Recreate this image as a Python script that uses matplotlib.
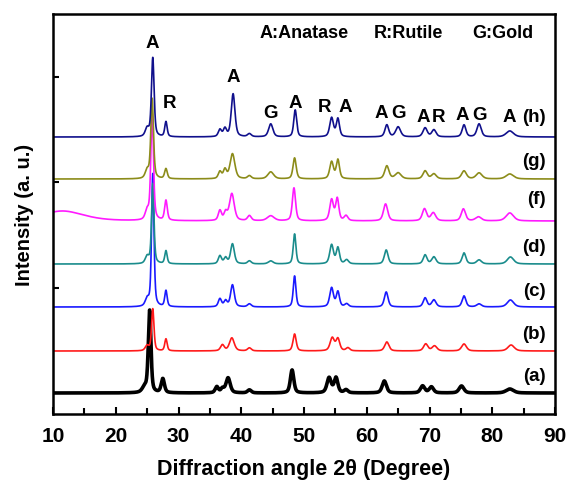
import numpy as np
import matplotlib
matplotlib.use("Agg")
import matplotlib.pyplot as plt

plt.rcParams['font.family'] = ['Liberation Sans', 'DejaVu Sans']
plt.rcParams['font.weight'] = 'bold'

# --- data: baselines (a.u. offsets) and peak tables (2theta, height, fwhm) ---
series_labels = ["(a)", "(b)", "(c)", "(d)", "(f)", "(g)", "(h)"]
series_colors = ["#000000", "#ff1a1a", "#1a1aff", "#1a8c8c", "#ff1aff", "#8c8c1a", "#10108c"]
baselines = [21, 63, 107, 150, 193, 235, 277]

peaks_a = [(24.6, 5, 0.9), (25.4, 82, 0.5), (27.5, 14, 0.6), (36.1, 6, 0.6), (37.0, 4, 0.6),
           (37.9, 15, 0.8), (41.3, 3, 0.7), (48.1, 23, 0.65), (54.0, 15, 0.8), (55.1, 15, 0.7),
           (56.7, 3, 0.7), (62.8, 12, 0.8), (68.9, 7, 0.8), (70.3, 6, 0.8), (75.1, 7, 0.9),
           (82.8, 4, 1.4)]
peaks_b = [(25.0, 5, 0.7), (25.9, 42, 0.45), (28.0, 12, 0.45), (37.0, 6, 0.7), (38.5, 13, 0.9),
           (41.3, 3, 0.7), (48.5, 17, 0.6), (54.5, 13, 0.8), (55.4, 12, 0.7), (57.0, 3, 0.7),
           (63.2, 9, 0.8), (69.4, 7, 0.8), (70.8, 5, 0.9), (75.5, 7, 0.9), (83.0, 6, 1.2)]
peaks_c = [(25.0, 7, 0.7), (25.9, 133, 0.45), (28.0, 16, 0.45), (36.6, 8, 0.6), (37.5, 6, 0.6),
           (38.6, 22, 0.7), (41.3, 3, 0.7), (48.5, 31, 0.5), (54.4, 19, 0.7), (55.4, 15, 0.6),
           (56.8, 3, 0.7), (63.1, 15, 0.7), (69.3, 9, 0.7), (70.7, 7, 0.8), (75.5, 11, 0.7),
           (77.9, 3, 0.9), (82.9, 7, 1.2)]
peaks_d = [(25.0, 7, 0.7), (25.9, 80, 0.45), (28.0, 13, 0.45), (36.6, 8, 0.6), (37.5, 6, 0.6),
           (38.6, 20, 0.7), (41.3, 3, 0.7), (44.7, 3, 0.9), (48.5, 30, 0.5), (54.4, 19, 0.7),
           (55.4, 16, 0.6), (56.8, 4, 0.7), (63.1, 14, 0.7), (69.3, 9, 0.7), (70.7, 7, 0.8),
           (75.5, 11, 0.7), (77.9, 4, 0.9), (82.9, 7, 1.2)]
peaks_f = [(11.5, 10, 8.0), (25.0, 9, 0.7), (25.8, 107, 0.5), (28.0, 20, 0.5), (36.6, 10, 0.6),
           (37.5, 8, 0.6), (38.5, 27, 0.9), (41.3, 5, 0.7), (44.7, 5, 1.3), (48.4, 33, 0.6),
           (54.4, 21, 0.7), (55.3, 22, 0.6), (56.7, 5, 0.7), (63.0, 17, 0.8), (69.2, 12, 0.8),
           (70.6, 8, 0.9), (75.4, 12, 0.8), (77.8, 4, 1.1), (82.8, 8, 1.4)]
peaks_g = [(25.0, 8, 0.7), (25.8, 80, 0.5), (28.0, 10, 0.5), (36.6, 7, 0.6), (37.4, 9, 0.6),
           (38.6, 25, 0.9), (41.3, 3, 0.7), (44.7, 7, 1.1), (48.5, 21, 0.6), (54.4, 17, 0.7),
           (55.4, 19, 0.6), (63.2, 13, 0.8), (65.0, 6, 1.1), (69.3, 8, 0.8), (70.7, 5, 0.9),
           (75.5, 8, 0.9), (77.9, 6, 1.1), (82.8, 5, 1.4)]
peaks_h = [(25.0, 8, 0.7), (25.9, 79, 0.5), (28.0, 15, 0.45), (36.6, 7, 0.6), (37.4, 8, 0.6),
           (38.7, 43, 0.7), (41.3, 3, 0.7), (44.7, 13, 0.8), (48.6, 27, 0.55), (54.4, 19, 0.7),
           (55.4, 18, 0.6), (63.2, 12, 0.7), (65.0, 10, 0.9), (69.3, 9, 0.8), (70.7, 7, 0.8),
           (75.5, 12, 0.7), (77.9, 13, 0.8), (82.8, 6, 1.4)]
peak_tables = [peaks_a, peaks_b, peaks_c, peaks_d, peaks_f, peaks_g, peaks_h]

# phase labels: (text, 2theta, height)
phase_labels = [("A", 25.8, 371), ("R", 28.6, 311), ("A", 38.7, 337), ("G", 44.7, 301),
                ("A", 48.6, 312), ("R", 53.3, 308), ("A", 56.5, 308), ("A", 62.3, 302),
                ("G", 65.1, 302), ("A", 69.0, 297), ("R", 71.4, 297), ("A", 75.3, 300),
                ("G", 78.0, 300), ("A", 82.7, 297)]

x = np.linspace(10, 90, 4000)

def profile(peaks):
    y = np.zeros_like(x)
    for c, h, w in peaks:
        g = np.exp(-4 * np.log(2) * ((x - c) / w) ** 2)
        l = 1.0 / (1 + 4 * ((x - c) / w) ** 2)
        y += h * (0.5 * g + 0.5 * l)
    return y

fig = plt.figure(figsize=(5.67, 4.81), dpi=100)
ax = fig.add_axes([53/567, 66/481, 502/567, 400/481])

for lab, col, base, pk in zip(series_labels, series_colors, baselines, peak_tables):
    lw = 2.6 if lab == "(a)" else 1.2
    ax.plot(x, base + profile(pk), color=col, lw=lw)

label_y = {"(a)": 38, "(b)": 80, "(c)": 123, "(d)": 167, "(f)": 215, "(g)": 253, "(h)": 297}
for lab in series_labels:
    ax.text(88.6, label_y[lab], lab, ha='right', va='center', fontsize=13.5, fontweight='bold')

for t, px, py in phase_labels:
    ax.text(px, py, t, ha='center', va='center', fontsize=13.5, fontweight='bold')

ax.text(50.0, 382, "A:Anatase", ha='center', va='center', fontsize=13, fontweight='bold')
ax.text(66.6, 382, "R:Rutile", ha='center', va='center', fontsize=13, fontweight='bold')
ax.text(81.7, 382, "G:Gold", ha='center', va='center', fontsize=13, fontweight='bold')

ax.set_xlim(10, 90)
ax.set_ylim(0, 400)
ax.set_xticks(np.arange(10, 91, 10))
ax.set_xticks(np.arange(15, 90, 10), minor=True)
ax.set_yticks([21, 126, 232, 337])
ax.set_yticklabels([])
ax.tick_params(axis='x', which='major', direction='in', length=5, width=1.5, labelsize=15, pad=9)
ax.tick_params(axis='x', which='minor', direction='in', length=4, width=1.5)
ax.tick_params(axis='y', which='major', direction='in', length=4, width=1.5)
for lbl in ax.get_xticklabels():
    lbl.set_fontweight('bold')
for s in ax.spines.values():
    s.set_linewidth(1.8)

ax.set_xlabel("Diffraction angle 2\u03b8 (Degree)", fontsize=15.5, fontweight='bold', labelpad=9)
ax.set_ylabel("Intensity (a. u.)", fontsize=14.5, fontweight='bold', labelpad=10)

fig.savefig("out.png", dpi=100)
